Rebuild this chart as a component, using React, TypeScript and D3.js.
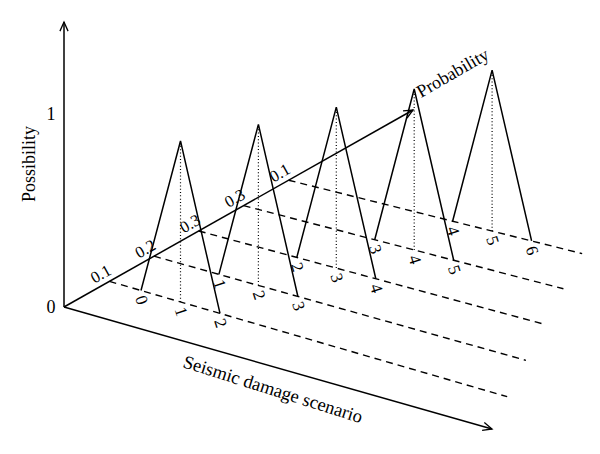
import React from 'react';
import * as d3 from 'd3';

// ---- data ----
const scenarioProbabilities = [0.1, 0.2, 0.3, 0.3, 0.1];
const damageLower = [0, 1, 2, 3, 4];
const damageMode = [1, 2, 3, 4, 5];
const damageUpper = [2, 3, 4, 5, 6];
const peakPossibility = [1, 1, 1, 1, 1];
const possibilityTicks = [0, 1];
const possibilityTitle = 'Possibility';
const probabilityTitle = 'Probability';
const damageTitle = 'Seismic damage scenario';

// ---- layout ----
const W = 600;
const H = 454;
const O: [number, number] = [64, 307];
const verticalTop = 22;
const probTip: [number, number] = [413, 110];
const damageTip: [number, number] = [492, 429];
const FONT = '"Liberation Serif", "Times New Roman", serif';

const yAxisScale = d3.scaleLinear().domain([0, 1]).range([307, 114]);
const heightScale = d3.scaleLinear().domain([0, 1]).range([0, 161]);
const originX = d3.scaleLinear().domain([0, 4]).range([141, 294.6]);
const originY = d3.scaleLinear().domain([0, 4]).range([290.5, 181.7]);
const damageStep = d3.scaleLinear().domain([0, 1]).range([0, 39.5]);
const depthSlope = d3.scaleLinear().domain([0, 4]).range([0.29, 0.25]);
const lineEndDamage = d3.scaleLinear().domain([0, 4]).range([9.27, 7.28]);

const base = (i: number, d: number): [number, number] => {
  const dx = damageStep(d);
  return [originX(i) + dx, originY(i) + dx * depthSlope(i)];
};

const pLen = Math.hypot(probTip[0] - O[0], probTip[1] - O[1]);
const u: [number, number] = [(probTip[0] - O[0]) / pLen, (probTip[1] - O[1]) / pLen];
const nrm: [number, number] = [u[1], -u[0]]; // up-left normal
const probAngle = (Math.atan2(u[1], u[0]) * 180) / Math.PI;

const axisIntersection = (i: number): [number, number] => {
  const p0 = base(i, 0);
  const m = depthSlope(i);
  const t = (p0[1] - O[1] - m * (p0[0] - O[0])) / (u[1] - m * u[0]);
  return [O[0] + t * u[0], O[1] + t * u[1]];
};

const arrowPath = (tip: [number, number], from: [number, number]) => {
  const ang = Math.atan2(tip[1] - from[1], tip[0] - from[0]);
  const L = 10;
  const a = (24 * Math.PI) / 180;
  const p1 = [tip[0] - L * Math.cos(ang - a), tip[1] - L * Math.sin(ang - a)];
  const p2 = [tip[0] - L * Math.cos(ang + a), tip[1] - L * Math.sin(ang + a)];
  return `M${p1[0]},${p1[1]}L${tip[0]},${tip[1]}L${p2[0]},${p2[1]}`;
};

const line = d3.line<[number, number]>();

export default function App() {
  const idx = scenarioProbabilities.map((_, i) => i);
  return (
    <svg
      width={W}
      height={H}
      style={{ position: 'absolute', left: 0, top: 0, background: '#fff' }}
      fontFamily={FONT}
    >
      <rect width={W} height={H} fill="#fff" />
      {/* dashed scenario lines */}
      {idx.map((i) => {
        const s = axisIntersection(i);
        const e = base(i, lineEndDamage(i));
        return (
          <path
            key={'dl' + i}
            d={line([s, e]) || ''}
            stroke="#000"
            strokeWidth={1.4}
            strokeDasharray="7 5"
            fill="none"
          />
        );
      })}
      {/* triangles */}
      {idx.map((i) => {
        const l = base(i, damageLower[i]);
        const m = base(i, damageMode[i]);
        const r = base(i, damageUpper[i]);
        const apex: [number, number] = [m[0], m[1] - heightScale(peakPossibility[i])];
        return (
          <g key={'tri' + i}>
            <path d={line([m, apex]) || ''} stroke="#000" strokeWidth={1.2} strokeDasharray="1 2.3" fill="none" />
            <path d={line([l, apex, r]) || ''} stroke="#000" strokeWidth={1.5} fill="none" strokeLinejoin="miter" />
            {[damageLower[i], damageMode[i], damageUpper[i]].map((d, k) => {
              const p = base(i, d);
              const cx = p[0] + 1;
              const cy = p[1] + 9.5;
              return (
                <text
                  key={k}
                  transform={`translate(${cx},${cy}) rotate(72)`}
                  textAnchor="middle"
                  dy="0.35em"
                  fontSize={17}
                >
                  {d}
                </text>
              );
            })}
          </g>
        );
      })}
      {/* axes */}
      <path d={line([O, [O[0], verticalTop]]) || ''} stroke="#000" strokeWidth={1.5} fill="none" />
      <path d={arrowPath([O[0], verticalTop], O)} stroke="#000" strokeWidth={1.3} fill="none" />
      <path d={line([O, probTip]) || ''} stroke="#000" strokeWidth={1.5} fill="none" />
      <path d={arrowPath(probTip, O)} stroke="#000" strokeWidth={1.3} fill="none" />
      <path d={line([O, damageTip]) || ''} stroke="#000" strokeWidth={1.5} fill="none" />
      <path d={arrowPath(damageTip, O)} stroke="#000" strokeWidth={1.3} fill="none" />
      {/* possibility ticks */}
      {possibilityTicks.map((t) => (
        <text key={'pt' + t} x={51} y={yAxisScale(t)} dy="0.35em" textAnchor="middle" fontSize={18}>
          {t}
        </text>
      ))}
      {/* probability labels */}
      {idx.map((i) => {
        const p = axisIntersection(i);
        const cx = p[0] + 11 * nrm[0] - 4 * u[0];
        const cy = p[1] + 11 * nrm[1] - 4 * u[1];
        return (
          <text
            key={'pl' + i}
            transform={`translate(${cx},${cy}) rotate(${probAngle})`}
            textAnchor="middle"
            dy="0.35em"
            fontSize={16.5}
          >
            {String(scenarioProbabilities[i])}
          </text>
        );
      })}
      {/* titles */}
      <text transform={`translate(35,164) rotate(-90)`} textAnchor="middle" fontSize={18}>
        {possibilityTitle}
      </text>
      <text transform={`translate(421,98) rotate(-30)`} fontSize={18}>
        {probabilityTitle}
      </text>
      <text transform={`translate(182,367) rotate(17.5)`} fontSize={18.5}>
        {damageTitle}
      </text>
    </svg>
  );
}
